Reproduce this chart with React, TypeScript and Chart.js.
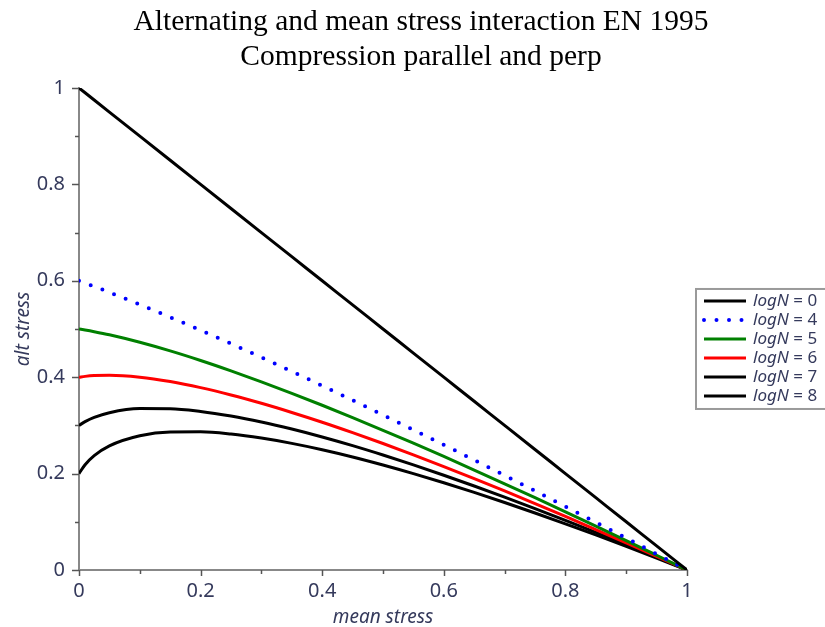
import React, { useEffect, useRef } from "react";
import { Chart, registerables, layouts } from "chart.js";

Chart.register(...registerables);

// mean stress (x) sample positions
const meanStress = [0, 0.01, 0.025, 0.05, 0.1, 0.15, 0.2, 0.25, 0.3, 0.35, 0.4, 0.45, 0.5, 0.55, 0.6, 0.65, 0.7, 0.75, 0.8, 0.85, 0.9, 0.95, 1];

// alternating stress for each logN curve
const altLogN0 = [1, 0.99, 0.975, 0.95, 0.9, 0.85, 0.8, 0.75, 0.7, 0.65, 0.6, 0.55, 0.5, 0.45, 0.4, 0.35, 0.3, 0.25, 0.2, 0.15, 0.1, 0.05, 0];
const altLogN4 = [0.6, 0.5953, 0.5882, 0.576, 0.5507, 0.5245, 0.4974, 0.4695, 0.441, 0.4119, 0.3823, 0.3522, 0.3217, 0.2908, 0.2596, 0.2281, 0.1962, 0.1641, 0.1317, 0.0991, 0.0663, 0.0332, 0];
const altLogN5 = [0.5, 0.4979, 0.4944, 0.4879, 0.4724, 0.4545, 0.4346, 0.4131, 0.3904, 0.3665, 0.3418, 0.3162, 0.2899, 0.263, 0.2355, 0.2074, 0.1789, 0.15, 0.1207, 0.091, 0.061, 0.0306, 0];
const altLogN6 = [0.4, 0.4017, 0.4033, 0.4041, 0.4, 0.3909, 0.3783, 0.3631, 0.3458, 0.3268, 0.3065, 0.2849, 0.2624, 0.2389, 0.2146, 0.1897, 0.1641, 0.1379, 0.1112, 0.084, 0.0564, 0.0284, 0];
const altLogN7 = [0.3, 0.3077, 0.3166, 0.3264, 0.335, 0.3347, 0.329, 0.3195, 0.3071, 0.2924, 0.2759, 0.2579, 0.2385, 0.2181, 0.1966, 0.1743, 0.1512, 0.1274, 0.103, 0.078, 0.0525, 0.0265, 0];
const altLogN8 = [0.2, 0.2183, 0.2372, 0.2575, 0.2785, 0.2863, 0.2866, 0.282, 0.2737, 0.2627, 0.2495, 0.2345, 0.2179, 0.2, 0.181, 0.1609, 0.14, 0.1183, 0.0958, 0.0727, 0.049, 0.0248, 0];

const seriesLabels = ["0", "4", "5", "6", "7", "8"];
const seriesValues = [altLogN0, altLogN4, altLogN5, altLogN6, altLogN7, altLogN8];
const seriesColors = ["#000000", "#0000ff", "#008000", "#ff0000", "#000000", "#000000"];
const seriesDotted = [false, true, false, false, false, false];

const titleLines = ["Alternating and mean stress interaction EN 1995", "Compression parallel and perp"];
const xTitle = "mean stress";
const yTitle = "alt stress";

const SANS = '"Noto Sans", "DejaVu Sans", sans-serif';
const TEXT_COLOR = "#353a5c";

const isMajor = (v: number) => Math.round(v * 10) % 2 === 0;

// reserves room on the right for the legend, as a layout box
const spacerPlugin = {
  id: "spacer",
  beforeInit(chart: any) {
    const box: any = {
      position: "right",
      weight: 100,
      fullSize: false,
      options: {},
      left: 0,
      top: 0,
      right: 0,
      bottom: 0,
      width: 0,
      height: 0,
      isHorizontal() {
        return false;
      },
      update(_maxW: number, maxH: number) {
        this.width = 155;
        this.height = maxH;
      },
      draw() {},
    };
    layouts.addBox(chart, box);
  },
};

const decorPlugin = {
  id: "decor",
  afterDraw(chart: any) {
    const ctx = chart.ctx as CanvasRenderingContext2D;
    const area = chart.chartArea;
    const xs = chart.scales.x;
    const ys = chart.scales.y;
    ctx.save();
    ctx.strokeStyle = "#555555";
    ctx.lineWidth = 1.5;
    ys.ticks.forEach((t: any) => {
      const p = Math.round(ys.getPixelForValue(t.value)) + 0.5;
      ctx.beginPath();
      ctx.moveTo(area.left - (isMajor(t.value) ? 7 : 4), p);
      ctx.lineTo(area.left, p);
      ctx.stroke();
    });
    xs.ticks.forEach((t: any) => {
      const p = Math.round(xs.getPixelForValue(t.value)) + 0.5;
      ctx.beginPath();
      ctx.moveTo(p, area.bottom);
      ctx.lineTo(p, area.bottom + (isMajor(t.value) ? 6 : 4));
      ctx.stroke();
    });

    // legend
    const left = area.right + 9;
    const top = area.top + 201;
    const rowH = 19;
    const boxH = rowH * seriesLabels.length + 6;
    ctx.strokeStyle = "#9a9a9a";
    ctx.lineWidth = 2;
    ctx.strokeRect(left, top, 160, boxH);
    seriesLabels.forEach((lab, i) => {
      const y = top + 12 + i * rowH;
      ctx.save();
      ctx.strokeStyle = seriesColors[i];
      ctx.lineWidth = seriesDotted[i] ? 4 : 3;
      if (seriesDotted[i]) {
        ctx.lineCap = "round";
        ctx.setLineDash([0, 12.5]);
      }
      ctx.beginPath();
      ctx.moveTo(left + 8, y);
      ctx.lineTo(left + 50, y);
      ctx.stroke();
      ctx.restore();
      ctx.fillStyle = TEXT_COLOR;
      ctx.textBaseline = "middle";
      ctx.font = `italic 17px ${SANS}`;
      const x0 = left + 57;
      ctx.fillText("logN", x0, y);
      const w = ctx.measureText("logN").width;
      ctx.font = `17px ${SANS}`;
      ctx.fillText(" = " + lab, x0 + w, y);
    });
    ctx.restore();
  },
};

export default function App() {
  const ref = useRef<HTMLCanvasElement | null>(null);

  useEffect(() => {
    document.body.style.margin = "0";
    document.body.style.overflow = "hidden";
    const canvas = ref.current;
    if (!canvas) return;

    const datasets = seriesValues.map((vals, i) => ({
      label: "logN = " + seriesLabels[i],
      data: meanStress.map((x, j) => ({ x, y: vals[j] })),
      borderColor: seriesColors[i],
      backgroundColor: seriesColors[i],
      borderWidth: seriesDotted[i] ? 4 : 3,
      borderDash: seriesDotted[i] ? [0, 12.5] : [],
      borderCapStyle: seriesDotted[i] ? "round" : "butt",
      pointRadius: 0,
      fill: false,
      cubicInterpolationMode: "monotone",
    }));

    const chart = new Chart(canvas, {
      type: "line",
      data: { datasets } as any,
      plugins: [spacerPlugin, decorPlugin],
      options: {
        responsive: false,
        animation: false,
        layout: { padding: 0 },
        plugins: {
          legend: { display: false },
          tooltip: { enabled: false },
          title: {
            display: true,
            text: titleLines,
            color: "#000000",
            font: { family: '"Liberation Serif", "Times New Roman", serif', size: 29.5, weight: "normal", lineHeight: 1.186 },
            padding: { top: 4.5, bottom: 13.5 },
          },
        },
        scales: {
          x: {
            type: "linear",
            min: 0,
            max: 1,
            afterFit: (s: any) => {
              s.height = 57;
            },
            grid: { display: false, drawTicks: false },
            border: { display: true, color: "#888888", width: 2 },
            ticks: {
              stepSize: 0.1,
              autoSkip: false,
              maxRotation: 0,
              padding: 9,
              color: TEXT_COLOR,
              font: { family: SANS, size: 20 },
              callback: (v: any) => (isMajor(Number(v)) ? String(Math.round(Number(v) * 10) / 10) : ""),
            },
            title: {
              display: true,
              text: xTitle,
              color: TEXT_COLOR,
              font: { family: SANS, size: 19, style: "italic", lineHeight: 1.0 },
              padding: { top: 0, bottom: 0 },
            },
          },
          y: {
            type: "linear",
            min: 0,
            max: 1,
            afterFit: (s: any) => {
              s.width = 79;
            },
            grid: { display: false, drawTicks: false },
            border: { display: true, color: "#888888", width: 2 },
            ticks: {
              stepSize: 0.1,
              autoSkip: false,
              padding: 14,
              color: TEXT_COLOR,
              font: { family: SANS, size: 20 },
              callback: (v: any) => (isMajor(Number(v)) ? String(Math.round(Number(v) * 10) / 10) : ""),
            },
            title: {
              display: true,
              text: yTitle,
              color: TEXT_COLOR,
              font: { family: SANS, size: 19, style: "italic", lineHeight: 1.0 },
              padding: { top: 14, bottom: 0 },
            },
          },
        },
      } as any,
    });

    return () => chart.destroy();
  }, []);

  return (
    <div style={{ width: 825, height: 627, overflow: "hidden", position: "relative" }}>
      <canvas ref={ref} width={842} height={627} style={{ display: "block", width: 842, height: 627 }} />
    </div>
  );
}
